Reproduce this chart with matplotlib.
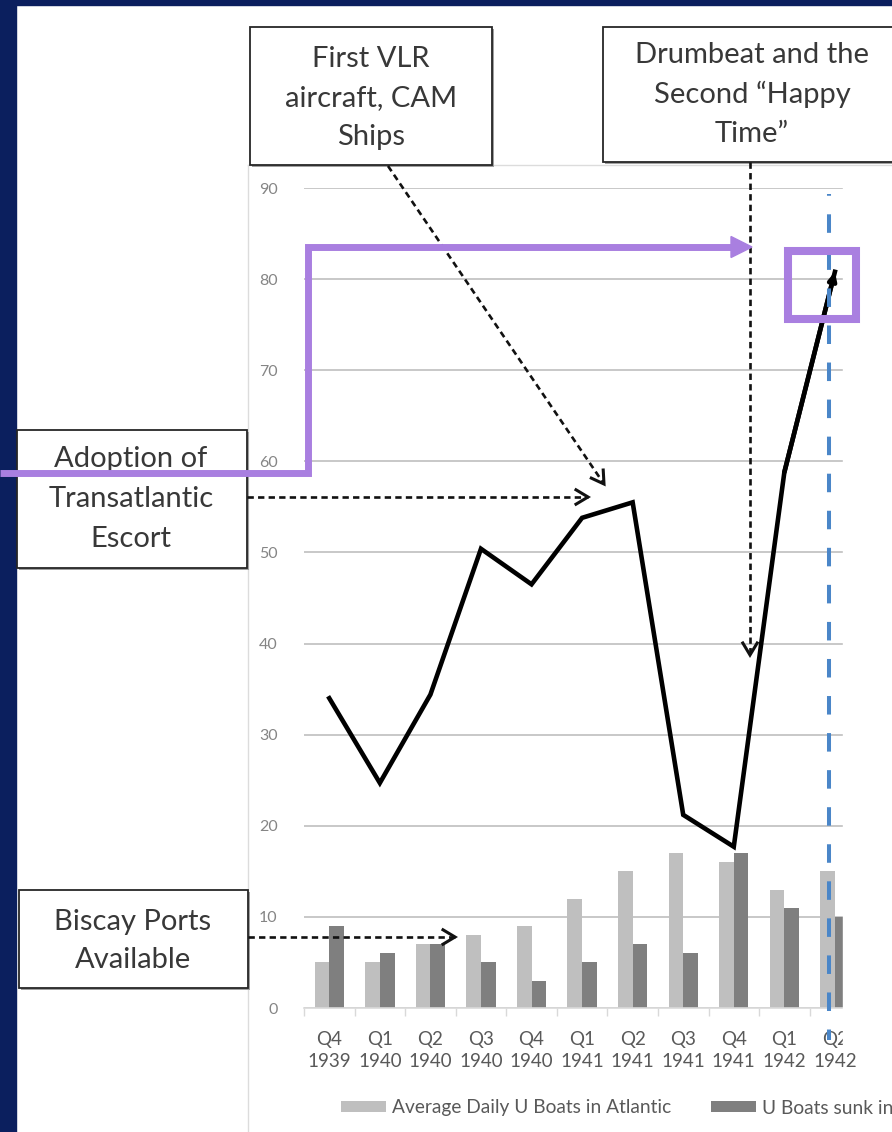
import matplotlib
matplotlib.use('Agg')
import matplotlib.pyplot as plt
from matplotlib.patches import Rectangle, Polygon
from matplotlib.lines import Line2D
import numpy as np

# ---------------- data ----------------
quarters = ['Q4\n1939', 'Q1\n1940', 'Q2\n1940', 'Q3\n1940', 'Q4\n1940', 'Q1\n1941',
            'Q2\n1941', 'Q3\n1941', 'Q4\n1941', 'Q1\n1942', 'Q2\n1942']
avg_daily_uboats = [5, 5, 7, 8, 9, 12, 15, 17, 16, 13, 15]
uboats_sunk = [9, 6, 7, 5, 3, 5, 7, 6, 17, 11, 10]
exchange_line = [34.0, 24.7, 34.4, 50.4, 46.5, 53.8, 55.5, 21.2, 17.7, 58.8, 80.8]
y_ticks = [0, 10, 20, 30, 40, 50, 60, 70, 80, 90]
legend_labels = ['Average Daily U Boats in Atlantic', 'U Boats sunk in']
box_vlr = ['First VLR', 'aircraft, CAM', 'Ships']
box_drumbeat = ['Drumbeat and the', 'Second \u201cHappy', 'Time\u201d']
box_escort = ['Adoption of', 'Transatlantic', 'Escort']
box_biscay = ['Biscay Ports', 'Available']

plt.rcParams['font.family'] = ['Lato', 'DejaVu Sans']

W, H = 892, 1132
fig = plt.figure(figsize=(W / 100, H / 100), dpi=100)
fig.patch.set_facecolor('white')


def fx(x):
    return x / W


def fy(y):
    return 1 - y / H


NAVY = '#0b1f5e'
PURPLE = '#a97fe0'
TXT = '#383838'

# ---------------- chart ----------------
ax = fig.add_axes([fx(304), fy(1008), (843 - 304) / W, (1008 - 188) / H])
x = np.arange(len(quarters))
bw = 0.29
b1 = ax.bar(x - bw / 2, avg_daily_uboats, bw, color='#bfbfbf', zorder=2, label=legend_labels[0])
b2 = ax.bar(x + bw / 2, uboats_sunk, bw, color='#7f7f7f', zorder=2, label=legend_labels[1])
ax.plot(x, exchange_line, color='black', lw=3.3, zorder=3, solid_joinstyle='miter')
ax.annotate('', xy=(x[-1], exchange_line[-1]), xytext=(x[-2], exchange_line[-2]),
            arrowprops=dict(arrowstyle='->,head_length=0.45,head_width=0.22', lw=3.3,
                            color='black', shrinkA=0, shrinkB=0), zorder=3)

ax.set_yticks(y_ticks)
ax.set_xticks(x)
ax.set_xticklabels(quarters, fontsize=13.5, color='#595959', linespacing=1.38)
ax.set_xticks(np.arange(-0.5, 10.0, 1), minor=True)
ax.set_xlim(-0.5, 10.16)
ax.set_ylim(0, 90)
ax.tick_params(axis='x', which='major', length=0, pad=16.5)
ax.tick_params(axis='x', which='minor', length=6, color='#d9d9d9', width=1)
ax.tick_params(axis='y', length=0, pad=19, labelsize=11.5, labelcolor='#858585')
ax.grid(axis='y', color='#c4c4c4', lw=1.3)
ax.set_axisbelow(True)
for s in ['top', 'right', 'left']:
    ax.spines[s].set_visible(False)
ax.spines['bottom'].set_color('#d9d9d9')
ax.spines['bottom'].set_linewidth(1.2)
ax.set_facecolor('none')

# blue dashed marker line
ax.axvline(9.88, ymin=-32 / 820, ymax=(1008 - 194) / 820, color='#4a86c8', lw=2.9,
           linestyle=(2, (4.6, 4.6)), clip_on=False, zorder=4)

# ---------------- figure decorations ----------------
fig.add_artist(Rectangle((0, fy(5)), 1, 5 / H, transform=fig.transFigure,
                         color=NAVY, zorder=1))
fig.add_artist(Rectangle((0, 0), 16 / W, 1, transform=fig.transFigure,
                         color=NAVY, zorder=1))
# chart frame
fig.add_artist(Line2D([fx(248), fx(248)], [fy(165), 0], color='#dcdcdc', lw=1,
                      transform=fig.transFigure, zorder=1))
fig.add_artist(Line2D([fx(248), 1], [fy(165), fy(165)], color='#dcdcdc', lw=1,
                      transform=fig.transFigure, zorder=1))
# white crop on the right
fig.add_artist(Rectangle((fx(843), fy(1048)), (W - 843) / W, (1048 - 167) / H,
                         transform=fig.transFigure, color='white', zorder=5))


def box(x0, y0, x1, y1, lines, baselines, cx, size=21):
    fig.add_artist(Rectangle((fx(x0 + 2), fy(y1 + 2)), (x1 - x0) / W, (y1 - y0) / H,
                             transform=fig.transFigure, fc='#a0a0a0', ec='none', zorder=6))
    fig.add_artist(Rectangle((fx(x0), fy(y1)), (x1 - x0) / W, (y1 - y0) / H,
                             transform=fig.transFigure, fc='white', ec='#262626',
                             lw=1.3, zorder=6.1))
    for t, b in zip(lines, baselines):
        fig.text(fx(cx), fy(b), t, ha='center', va='baseline', fontsize=size,
                 color=TXT, zorder=7)


box(250, 27, 492, 165, box_vlr, [67, 106, 145], 371)
box(603, 27, 905, 162, box_drumbeat, [63, 103, 142], 752)
box(17, 430, 247, 568, box_escort, [467, 507, 547], 131)
box(19, 890, 248, 988, box_biscay, [930, 968], 133)


def dashed_arrow(p0, p1, lw=1.9, head=12):
    p0 = np.array(p0, float)
    p1 = np.array(p1, float)
    fig.add_artist(Line2D([fx(p0[0]), fx(p1[0])], [fy(p0[1]), fy(p1[1])], color='#111111',
                          lw=lw, linestyle=(0, (2.4, 1.6)), transform=fig.transFigure,
                          zorder=7.5))
    d = (p1 - p0) / np.linalg.norm(p1 - p0)
    n = np.array([-d[1], d[0]])
    a = p1 - d * head + n * head * 0.6
    b = p1 - d * head - n * head * 0.6
    fig.add_artist(Line2D([fx(a[0]), fx(p1[0]), fx(b[0])], [fy(a[1]), fy(p1[1]), fy(b[1])],
                          color='#111111', lw=lw + 0.3, transform=fig.transFigure,
                          zorder=7.5, solid_joinstyle='miter'))


dashed_arrow((388, 166), (604, 484))
dashed_arrow((750, 162), (750, 655))
dashed_arrow((247, 497), (588, 497))
dashed_arrow((248, 937), (455, 937))

# purple highlight path & box
fig.add_artist(Line2D([fx(0), fx(308), fx(308), fx(734)], [fy(473), fy(473), fy(247), fy(247)],
                      color=PURPLE, lw=5, transform=fig.transFigure, zorder=8,
                      solid_joinstyle='miter', solid_capstyle='butt'))
fig.add_artist(Polygon([[fx(752), fy(247)], [fx(731), fy(236.5)], [fx(731), fy(257.5)]],
                       closed=True, transform=fig.transFigure, color=PURPLE, zorder=8))
fig.add_artist(Rectangle((fx(788), fy(319)), (856 - 788) / W, (319 - 251) / H,
                         transform=fig.transFigure, fill=False, ec=PURPLE, lw=5.8,
                         zorder=8, joinstyle='miter'))

# legend
fig.legend(handles=[b1, b2], labels=legend_labels, loc='center left',
           bbox_to_anchor=(fx(341), fy(1108)), ncol=2, frameon=False, fontsize=13.8,
           handlelength=2.35, handleheight=0.55, handletextpad=0.3, columnspacing=2.1,
           borderpad=0, borderaxespad=0, labelcolor='#595959')

fig.savefig('out.png', dpi=100, facecolor='white')
